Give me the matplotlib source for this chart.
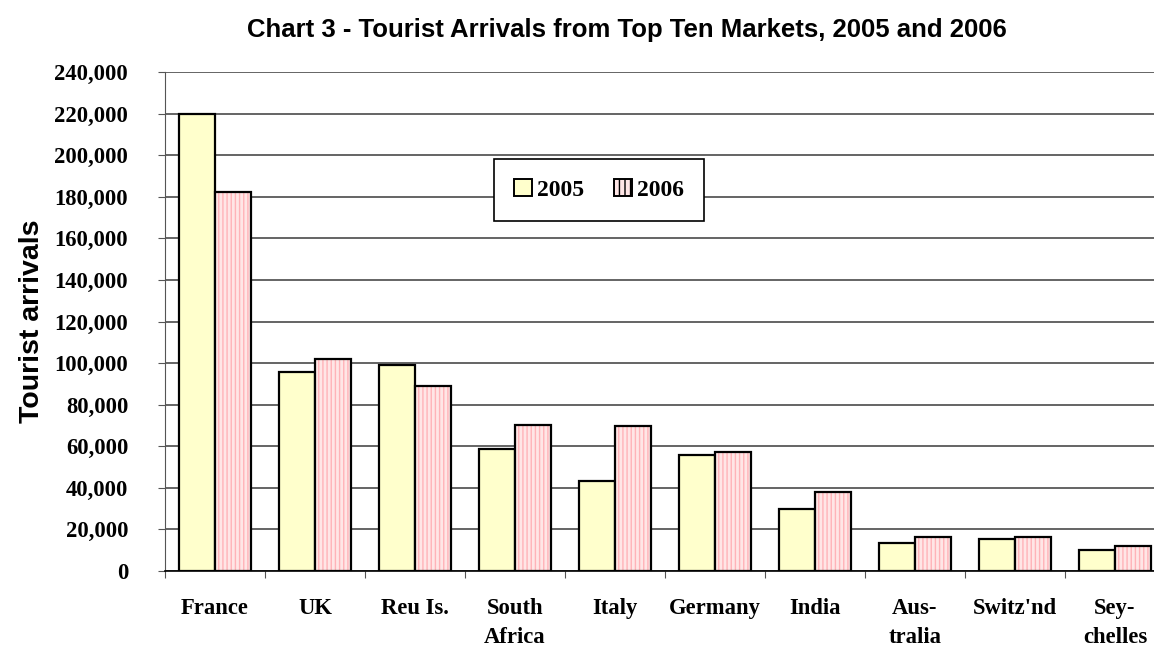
import numpy as np
import matplotlib
matplotlib.use("Agg")
import matplotlib.pyplot as plt
from matplotlib.patches import Patch

# values
markets = ["France", "UK", "Reu Is.", "South\nAfrica", "Italy", "Germany",
           "India", "Aus-\ntralia", "Switz'nd", "Sey-\nchelles"]
arrivals_2005 = [220000, 95700, 99300, 58500, 43200, 55800, 29800, 13500, 15400, 10100]
arrivals_2006 = [182400, 102000, 89200, 70200, 69600, 57000, 38000, 16300, 16300, 12000]
years = ["2005", "2006"]
y_ticks = list(range(0, 240001, 20000))

fill_2005 = "#FFFFCC"
fill_2006 = "#FFE6E6"
hatch_2006 = "#FFB3B8"

fig = plt.figure(figsize=(11.54, 6.46), dpi=100)
# plot area runs a little past the right edge, as in the original
ax = fig.add_axes([165 / 1154, 1 - 571 / 646, 1000 / 1154, (571 - 72) / 646])

x = np.arange(len(markets))
w = 0.36

ax.bar(x - w / 2, arrivals_2005, w, color=fill_2005, edgecolor="black",
       linewidth=1.6, zorder=3)
# hatched fill first, then a black outline on top
ax.bar(x + w / 2, arrivals_2006, w, color=fill_2006, edgecolor=hatch_2006,
       hatch="||||", linewidth=0, zorder=3)
ax.bar(x + w / 2, arrivals_2006, w, fill=False, edgecolor="black",
       linewidth=1.6, zorder=4)

ax.set_xlim(-0.5, len(markets) - 0.5)
ax.set_ylim(0, 240000)
ax.set_yticks(y_ticks)
ax.set_yticklabels([f"{v:,}" for v in y_ticks],
                   fontfamily="Liberation Serif", fontweight="bold", fontsize=16.3)
ax.yaxis.grid(True, color="#3a3a3a", linewidth=1.1, zorder=0)
ax.set_axisbelow(True)

ax.set_xticks(np.arange(len(markets) + 1) - 0.5, minor=False)
ax.set_xticklabels([])
ax.set_xticks(x, minor=True)
ax.set_xticklabels(markets, minor=True, fontfamily="Liberation Serif",
                   fontweight="bold", fontsize=16.3, va="top", linespacing=1.5)
ax.tick_params(axis="x", which="minor", length=0, pad=19.5)
ax.tick_params(axis="x", which="major", length=5, direction="out", color="#555555")
ax.tick_params(axis="y", length=5, direction="out", pad=21.5, color="#555555")

for side in ["top", "right"]:
    ax.spines[side].set_visible(False)
ax.spines["left"].set_color("#555555")
ax.spines["bottom"].set_color("black")
ax.spines["bottom"].set_linewidth(1.2)

ax.set_ylabel("Tourist arrivals", fontfamily="Liberation Sans", fontweight="bold",
              fontsize=20.5, labelpad=7)

fig.text(627 / 1154, 1 - 30 / 646,
         "Chart 3 - Tourist Arrivals from Top Ten Markets, 2005 and 2006",
         ha="center", va="center", fontfamily="Liberation Sans",
         fontweight="bold", fontsize=18.5)

handles = [Patch(facecolor=fill_2005, edgecolor="black", linewidth=1.4),
           Patch(facecolor=fill_2006, edgecolor=hatch_2006, hatch="|||", linewidth=1.4)]
leg = ax.legend(handles, years, ncol=2, loc="center",
                bbox_to_anchor=((599 - 165) / 1000, (571 - 190) / 499),
                prop={"family": "Liberation Serif", "weight": "bold", "size": 17},
                frameon=True, fancybox=False, edgecolor="black", framealpha=1,
                handlelength=0.75, handleheight=0.75, handletextpad=0.2,
                columnspacing=1.3, borderpad=0.85)
leg.get_frame().set_linewidth(1.2)
for p in leg.get_patches():
    p.set_edgecolor("black")
leg.set_zorder(6)

fig.savefig("out.png", dpi=100)
